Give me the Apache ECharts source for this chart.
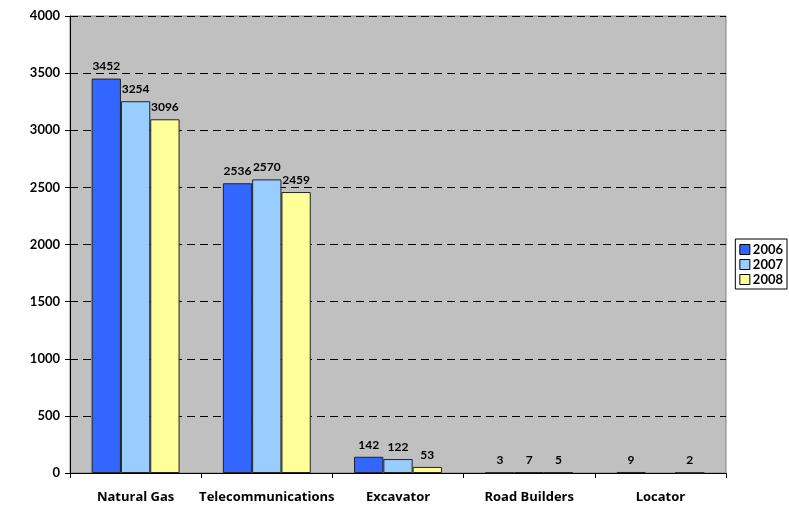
<!DOCTYPE html>
<html>
<head>
<meta charset="utf-8">
<script src="https://cdn.jsdelivr.net/npm/echarts@6/dist/echarts.min.js"></script>
<style>
  html, body { margin: 0; padding: 0; background: #fff; }
  #chart { width: 789px; height: 508px; }
</style>
</head>
<body>
<div id="chart"></div>
<script>
const categories = ['Natural Gas', 'Telecommunications', 'Excavator', 'Road Builders', 'Locator'];
const years = ['2006', '2007', '2008'];
const values2006 = [3452, 2536, 142, 3, 9];
const values2007 = [3254, 2570, 122, 7, null];
const values2008 = [3096, 2459, 53, 5, 2];
const yTicks = { min: 0, max: 4000, interval: 500 };

const colors = ['#3366FF', '#99CCFF', '#FFFF99'];
const seriesValues = [values2006, values2007, values2008];
const fontFamily = 'Lato, "Open Sans", "DejaVu Sans", sans-serif';
const catFont = '"Open Sans", Lato, "DejaVu Sans", sans-serif';

const chart = echarts.init(document.getElementById('chart'));
chart.setOption({
  animation: false,
  textStyle: { fontFamily: fontFamily },
  grid: {
    left: 70, right: 63, top: 16, bottom: 35,
    show: true, backgroundColor: '#C0C0C0', borderColor: '#808080', borderWidth: 1
  },
  legend: {
    orient: 'vertical',
    right: 2, top: 239,
    itemWidth: 10, itemHeight: 10, itemGap: 2,
    padding: [4, 4, 3, 4],
    borderColor: '#000', borderWidth: 1,
    backgroundColor: '#fff',
    icon: 'rect',
    itemStyle: { borderColor: '#000', borderWidth: 1 },
    textStyle: { fontSize: 13, lineHeight: 13, fontWeight: 'bold', color: '#000', fontFamily: fontFamily, padding: [0, 0, 0, -2] },
    data: years
  },
  xAxis: {
    type: 'category',
    data: categories,
    axisLine: { lineStyle: { color: '#000', width: 1 } },
    axisTick: { show: true, length: 5, lineStyle: { color: '#000' } },
    axisLabel: { interval: 0, fontSize: 13, fontWeight: 'bold', color: '#000', margin: 18, fontFamily: catFont },
    splitLine: { show: false }
  },
  yAxis: {
    type: 'value',
    min: yTicks.min, max: yTicks.max, interval: yTicks.interval,
    axisLine: { show: true, lineStyle: { color: '#000', width: 1 } },
    axisTick: { show: true, length: 5, lineStyle: { color: '#000' } },
    axisLabel: { fontSize: 13, fontWeight: 'bold', color: '#000', margin: 10, fontFamily: fontFamily,
      formatter: v => String(v) },
    splitLine: { show: true, lineStyle: { color: '#000', type: [8, 5], width: 1 } }
  },
  series: years.map((y, i) => ({
    name: y,
    type: 'bar',
    data: seriesValues[i],
    barGap: '0%',
    barCategoryGap: '33%',
    itemStyle: { color: colors[i], borderColor: '#222', borderWidth: 1 },
    label: {
      show: true, position: 'top', distance: 6,
      fontSize: 12, fontWeight: 'bold', color: '#000', fontFamily: fontFamily
    }
  }))
});
</script>
</body>
</html>
